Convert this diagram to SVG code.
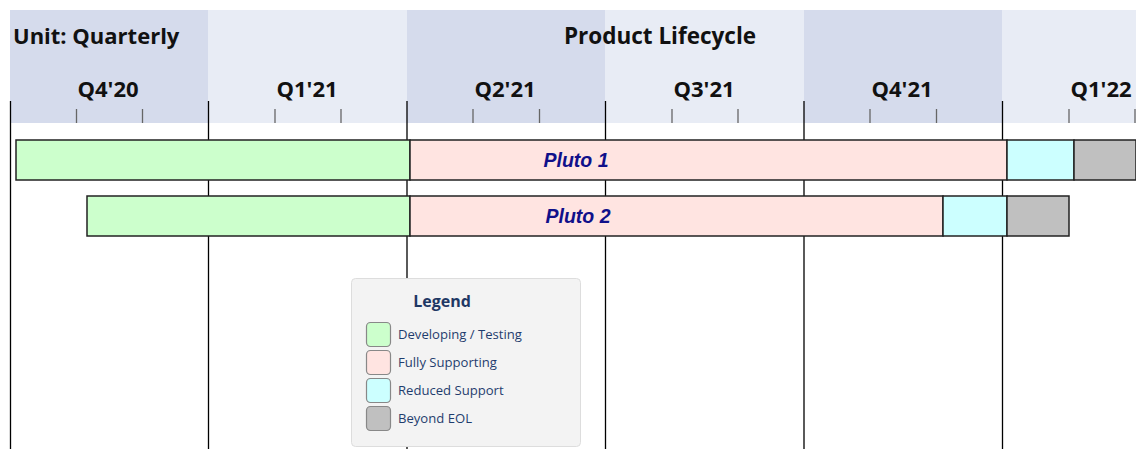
<svg xmlns="http://www.w3.org/2000/svg" width="1136" height="449" viewBox="0 0 1136 449">
<style>
.hd{font-family:"Open Sans","Noto Sans",sans-serif;font-weight:700;fill:#111;}
.q{font-size:22px;text-anchor:middle;}
.grid{stroke:#000;stroke-width:1.3;}
.tick{stroke:#666;stroke-width:1.3;}
.seg{stroke:#222;stroke-width:1.5;}
.dev{fill:#ccffcc;}
.full{fill:#ffe4e1;}
.red{fill:#ccffff;}
.eol{fill:#c0c0c0;}
.lbl{font-family:"Liberation Sans",Arial,sans-serif;font-weight:700;font-style:italic;font-size:19.5px;fill:#10108a;text-anchor:middle;}
.lg{font-family:"Open Sans","Noto Sans",sans-serif;font-size:13.1px;fill:#1f3d6e;}
.sw{stroke:#888;stroke-width:1.2;}
</style>
<g id="header">
<rect x="10" y="10" width="198" height="113" fill="#d5dbec"/>
<rect x="208" y="10" width="199" height="113" fill="#e8ecf5"/>
<rect x="407" y="10" width="198" height="113" fill="#d5dbec"/>
<rect x="605" y="10" width="199" height="113" fill="#e8ecf5"/>
<rect x="804" y="10" width="198" height="113" fill="#d5dbec"/>
<rect x="1002" y="10" width="134" height="113" fill="#e8ecf5"/>
<text class="hd" x="13" y="44" font-size="22">Unit: Quarterly</text>
<text class="hd" x="660" y="44" font-size="22.5" text-anchor="middle">Product Lifecycle</text>
<text class="hd q" x="108" y="97">Q4'20</text>
<text class="hd q" x="307" y="97">Q1'21</text>
<text class="hd q" x="505" y="97">Q2'21</text>
<text class="hd q" x="704" y="97">Q3'21</text>
<text class="hd q" x="902" y="97">Q4'21</text>
<text class="hd q" x="1101" y="97">Q1'22</text>
</g>
<g id="grid">
<line class="grid" x1="10.5" y1="101" x2="10.5" y2="449"/>
<line class="grid" x1="208.5" y1="101" x2="208.5" y2="449"/>
<line class="grid" x1="407" y1="101" x2="407" y2="449"/>
<line class="grid" x1="605.5" y1="101" x2="605.5" y2="449"/>
<line class="grid" x1="804" y1="101" x2="804" y2="449"/>
<line class="grid" x1="1002.5" y1="101" x2="1002.5" y2="449"/>
<g class="tick">
<line x1="76.5" y1="109" x2="76.5" y2="123"/>
<line x1="142.5" y1="109" x2="142.5" y2="123"/>
<line x1="275" y1="109" x2="275" y2="123"/>
<line x1="341" y1="109" x2="341" y2="123"/>
<line x1="473" y1="109" x2="473" y2="123"/>
<line x1="539.5" y1="109" x2="539.5" y2="123"/>
<line x1="672" y1="109" x2="672" y2="123"/>
<line x1="738" y1="109" x2="738" y2="123"/>
<line x1="870" y1="109" x2="870" y2="123"/>
<line x1="936.5" y1="109" x2="936.5" y2="123"/>
<line x1="1069" y1="109" x2="1069" y2="123"/>
<line x1="1135" y1="109" x2="1135" y2="123"/>
</g>
</g>
<g id="pluto1">
<rect class="seg dev" x="16" y="140" width="394" height="40"/>
<rect class="seg full" x="410" y="140" width="597" height="40"/>
<rect class="seg red" x="1007" y="140" width="67" height="40"/>
<rect class="seg eol" x="1074" y="140" width="62" height="40"/>
<text class="lbl" x="576" y="167">Pluto 1</text>
</g>
<g id="pluto2">
<rect class="seg dev" x="87" y="196" width="323" height="40"/>
<rect class="seg full" x="410" y="196" width="533" height="40"/>
<rect class="seg red" x="943" y="196" width="64" height="40"/>
<rect class="seg eol" x="1007" y="196" width="62" height="40"/>
<text class="lbl" x="578" y="223">Pluto 2</text>
</g>
<g id="legend">
<rect x="351.5" y="278.5" width="229" height="168" rx="4" fill="#f3f3f3" stroke="#dddddd"/>
<text x="442" y="307" text-anchor="middle" font-family="Open Sans,Noto Sans,sans-serif" font-weight="700" font-size="16" fill="#1f3864">Legend</text>
<rect class="sw dev" x="366.5" y="322.5" width="24" height="24" rx="4"/>
<rect class="sw full" x="366.5" y="350.5" width="24" height="24" rx="4"/>
<rect class="sw red" x="366.5" y="378.5" width="24" height="24" rx="4"/>
<rect class="sw eol" x="366.5" y="406.5" width="24" height="24" rx="4"/>
<text class="lg" x="398" y="339">Developing / Testing</text>
<text class="lg" x="398" y="367">Fully Supporting</text>
<text class="lg" x="398" y="395">Reduced Support</text>
<text class="lg" x="398" y="423">Beyond EOL</text>
</g>
</svg>
